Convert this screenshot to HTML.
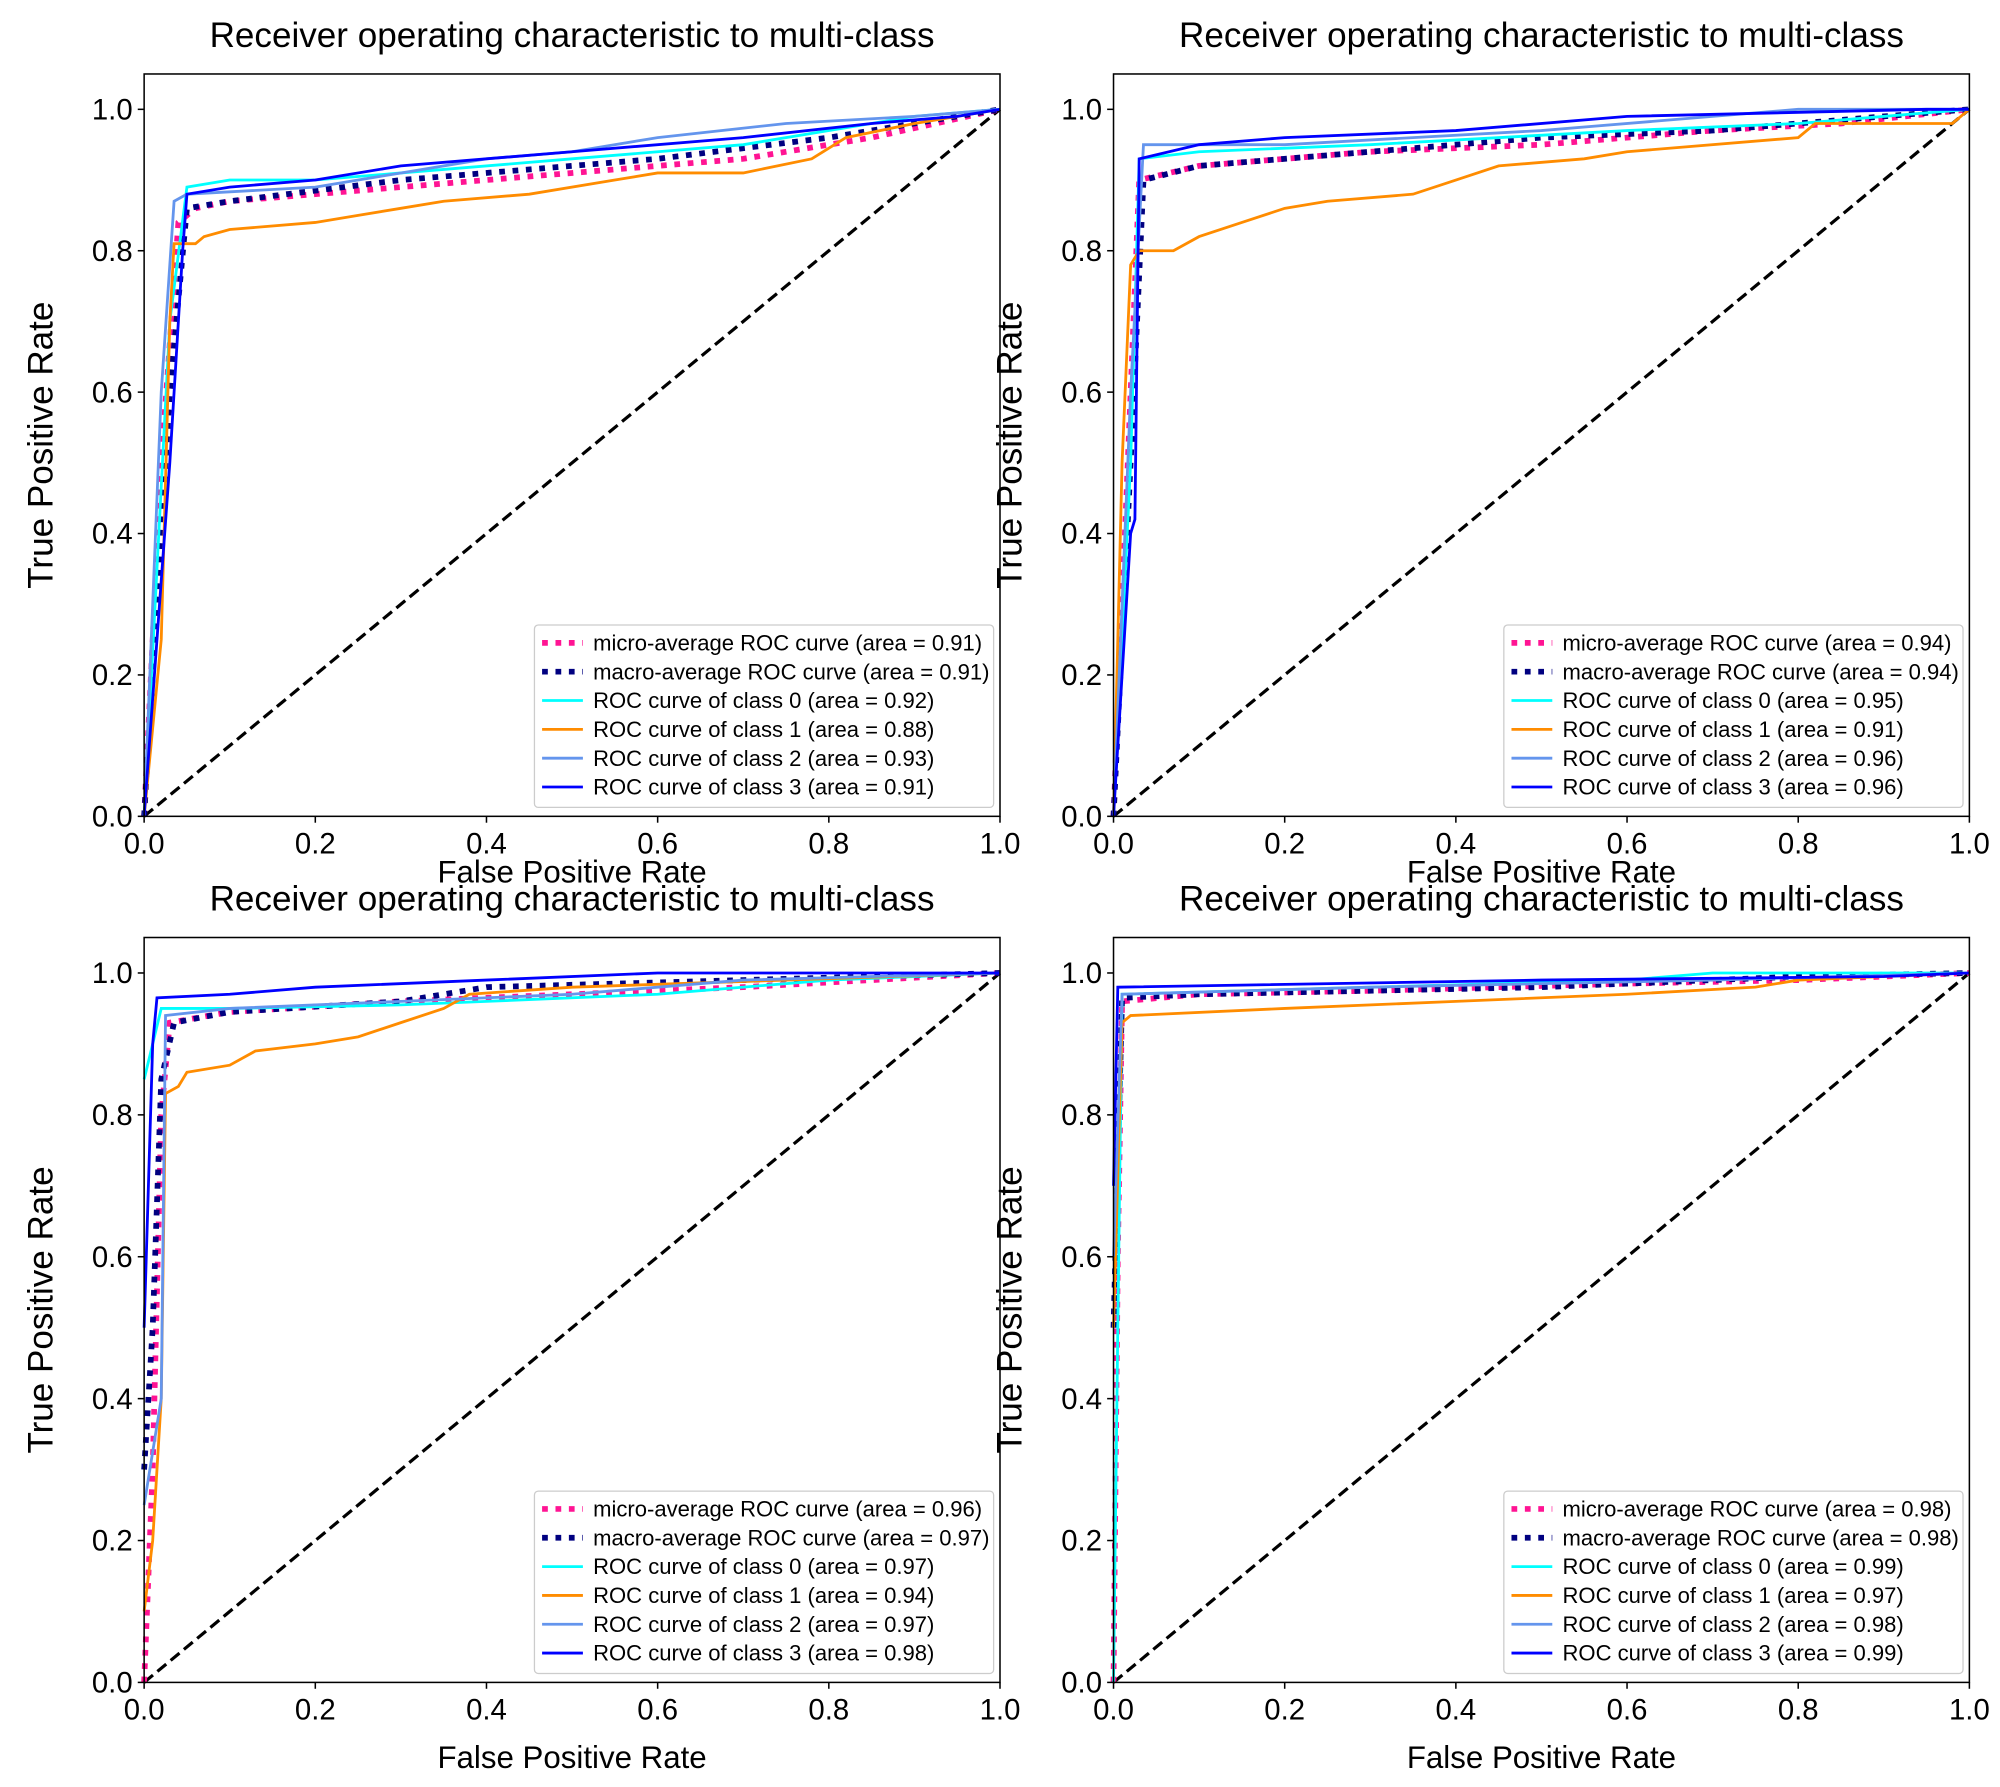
<!DOCTYPE html>
<html><head><meta charset="utf-8"><style>
html,body{margin:0;padding:0;background:#fff}
svg{display:block}
text{font-family:"Liberation Sans",Arial,sans-serif;fill:#000}
</style></head><body>
<svg id="fig" width="2000" height="1787" viewBox="0 0 1568 1401" preserveAspectRatio="none" xmlns="http://www.w3.org/2000/svg"></svg>
<script>
const seriesNames = ["micro","macro","class0","class1","class2","class3"];
const seriesColors = ["deeppink","navy","aqua","darkorange","cornflowerblue","blue"];
const ticks = [0,0.2,0.4,0.6,0.8,1.0];
const tickLabels = ["0.0","0.2","0.4","0.6","0.8","1.0"];
const p1Areas = ["0.91","0.91","0.92","0.88","0.93","0.91"];
const p2Areas = ["0.94","0.94","0.95","0.91","0.96","0.96"];
const p3Areas = ["0.96","0.97","0.97","0.94","0.97","0.98"];
const p4Areas = ["0.98","0.98","0.99","0.97","0.98","0.99"];
const p1Micro = [[0,0],[0.02,0.5],[0.04,0.84],[0.06,0.86],[0.1,0.87],[0.2,0.88],[0.3,0.89],[0.5,0.91],[0.7,0.93],[0.85,0.96],[1,1]];
const p1Macro = [[0,0],[0.03,0.6],[0.05,0.86],[0.1,0.87],[0.3,0.9],[0.6,0.93],[0.8,0.96],[1,1]];
const p1C0 = [[0,0],[0.03,0.7],[0.05,0.89],[0.1,0.9],[0.2,0.9],[0.3,0.91],[0.5,0.93],[0.7,0.95],[0.9,0.99],[1,1]];
const p1C1 = [[0,0],[0.02,0.25],[0.03,0.7],[0.035,0.81],[0.06,0.81],[0.07,0.82],[0.1,0.83],[0.2,0.84],[0.25,0.85],[0.3,0.86],[0.35,0.87],[0.45,0.88],[0.55,0.9],[0.6,0.91],[0.7,0.91],[0.78,0.93],[0.82,0.96],[0.9,0.98],[1,1]];
const p1C2 = [[0,0],[0.02,0.6],[0.035,0.87],[0.05,0.88],[0.2,0.89],[0.3,0.91],[0.4,0.93],[0.5,0.94],[0.6,0.96],[0.75,0.98],[0.9,0.99],[1,1]];
const p1C3 = [[0,0],[0.03,0.5],[0.045,0.8],[0.05,0.88],[0.1,0.89],[0.2,0.9],[0.3,0.92],[0.5,0.94],[0.7,0.96],[0.85,0.98],[0.95,0.99],[1,1]];
const p2Micro = [[0,0],[0.02,0.6],[0.03,0.9],[0.1,0.92],[0.3,0.94],[0.5,0.95],[0.7,0.97],[0.85,0.98],[1,1]];
const p2Macro = [[0,0],[0.02,0.5],[0.035,0.9],[0.1,0.92],[0.3,0.94],[0.5,0.96],[0.7,0.97],[1,1]];
const p2C0 = [[0,0],[0.02,0.5],[0.03,0.93],[0.1,0.94],[0.3,0.95],[0.6,0.97],[0.8,0.98],[1,1]];
const p2C1 = [[0,0],[0.01,0.5],[0.02,0.78],[0.03,0.8],[0.07,0.8],[0.1,0.82],[0.15,0.84],[0.2,0.86],[0.25,0.87],[0.35,0.88],[0.4,0.9],[0.45,0.92],[0.55,0.93],[0.6,0.94],[0.8,0.96],[0.82,0.98],[0.98,0.98],[1,1]];
const p2C2 = [[0,0],[0.02,0.6],[0.035,0.95],[0.2,0.95],[0.5,0.97],[0.7,0.99],[0.8,1],[1,1]];
const p2C3 = [[0,0],[0.02,0.4],[0.025,0.42],[0.03,0.93],[0.1,0.95],[0.2,0.96],[0.4,0.97],[0.6,0.99],[0.95,1],[1,1]];
const p3Micro = [[0,0],[0.01,0.3],[0.02,0.8],[0.03,0.93],[0.1,0.945],[0.3,0.96],[0.5,0.97],[0.7,0.98],[0.85,0.99],[1,1]];
const p3Macro = [[0,0.3],[0.01,0.5],[0.02,0.85],[0.035,0.93],[0.1,0.945],[0.3,0.96],[0.4,0.98],[0.7,0.99],[1,1]];
const p3C0 = [[0,0.85],[0.01,0.9],[0.02,0.95],[0.1,0.95],[0.3,0.955],[0.4,0.96],[0.6,0.97],[0.8,0.99],[1,1]];
const p3C1 = [[0,0.1],[0.01,0.2],[0.02,0.4],[0.025,0.83],[0.04,0.84],[0.05,0.86],[0.1,0.87],[0.13,0.89],[0.2,0.9],[0.25,0.91],[0.3,0.93],[0.35,0.95],[0.38,0.97],[0.5,0.98],[0.75,0.99],[1,1]];
const p3C2 = [[0,0.25],[0.02,0.4],[0.025,0.94],[0.1,0.95],[0.3,0.96],[0.5,0.97],[0.7,0.99],[1,1]];
const p3C3 = [[0,0.5],[0.01,0.9],[0.015,0.965],[0.1,0.97],[0.2,0.98],[0.4,0.99],[0.6,1],[1,1]];
const p4Micro = [[0,0],[0.005,0.6],[0.01,0.96],[0.1,0.97],[0.3,0.975],[0.6,0.985],[0.8,0.99],[1,1]];
const p4Macro = [[0,0.5],[0.01,0.965],[0.1,0.97],[0.5,0.98],[0.8,0.995],[1,1]];
const p4C0 = [[0,0],[0.005,0.5],[0.01,0.97],[0.3,0.98],[0.6,0.99],[0.7,1],[1,1]];
const p4C1 = [[0,0.5],[0.01,0.93],[0.02,0.94],[0.2,0.95],[0.4,0.96],[0.6,0.97],[0.75,0.98],[0.8,0.99],[1,1]];
const p4C2 = [[0,0.6],[0.01,0.97],[0.3,0.98],[0.7,0.99],[1,1]];
const p4C3 = [[0,0.7],[0.005,0.98],[0.5,0.99],[0.9,0.995],[1,1]];

const NS="http://www.w3.org/2000/svg";
const svg=document.getElementById('fig');
function mk(tag,attrs,parent){const e=document.createElementNS(NS,tag);for(const k in attrs)e.setAttribute(k,attrs[k]);(parent||svg).appendChild(e);return e;}

const panels=[
 {x0:113,x1:784,top:58,bot:640,series:[p1Micro,p1Macro,p1C0,p1C1,p1C2,p1C3],areas:p1Areas,xlY:684},
 {x0:873,x1:1544,top:58,bot:640,series:[p2Micro,p2Macro,p2C0,p2C1,p2C2,p2C3],areas:p2Areas,xlY:684},
 {x0:113,x1:784,top:735,bot:1319,series:[p3Micro,p3Macro,p3C0,p3C1,p3C2,p3C3],areas:p3Areas,xlY:1378},
 {x0:873,x1:1544,top:735,bot:1319,series:[p4Micro,p4Macro,p4C0,p4C1,p4C2,p4C3],areas:p4Areas,xlY:1378}
];
panels.forEach((p,i)=>{
 const g=mk('g',{});
 
 
 const sx=v=>p.x0+v*(p.x1-p.x0);
 const sy=v=>p.bot-v/1.05*(p.bot-p.top);
 const cx=(p.x0+p.x1)/2;
 const t=mk('text',{x:cx,y:p.top-21,'text-anchor':'middle','font-size':27.5},g);
 t.textContent='Receiver operating characteristic to multi-class';
 
 
 const d=mk('line',{x1:sx(0),y1:sy(0),x2:sx(1),y2:sy(1),stroke:'#000','stroke-width':2.5,'stroke-dasharray':'9 4.5'},g);
 
 
 p.series.forEach((pts,j)=>{
  const dotted=j<2;
  const pl=mk('polyline',{points:pts.map(q=>sx(q[0])+','+sy(q[1])).join(' '),fill:'none',stroke:seriesColors[j],'stroke-width':dotted?4.5:2.2,'stroke-dasharray':dotted?'4.5 6':'none'},g);
  
  
 });
 const fr=mk('rect',{x:p.x0,y:p.top,width:p.x1-p.x0,height:p.bot-p.top,fill:'none',stroke:'#000','stroke-width':1.2},g);
 
 
 ticks.forEach((v,k)=>{
  mk('line',{x1:sx(v),y1:p.bot,x2:sx(v),y2:p.bot+5,stroke:'#000','stroke-width':1.2},g);
  const xt=mk('text',{x:sx(v),y:p.bot+29,'text-anchor':'middle','font-size':23},g);
  xt.textContent=tickLabels[k];
  
  
  mk('line',{x1:p.x0-5,y1:sy(v),x2:p.x0,y2:sy(v),stroke:'#000','stroke-width':1.2},g);
  const yt=mk('text',{x:p.x0-9,y:sy(v)+8,'text-anchor':'end','font-size':23},g);
  yt.textContent=tickLabels[k];
  
  
 });
 const xl=mk('text',{x:cx,y:p.xlY+8,'text-anchor':'middle','font-size':24.5},g);
 xl.textContent='False Positive Rate';
 
 
 const ym=(p.top+p.bot)/2, yx=p.x0-72;
 const yl=mk('text',{x:yx,y:ym,'text-anchor':'middle','font-size':27.5,transform:`rotate(-90 ${yx} ${ym})`},g);
 yl.textContent='True Positive Rate';
 
 
 const lx=p.x0+306, ly=p.bot-150;
 const lg=mk('g',{},g);
 
 
 mk('rect',{x:lx,y:ly,width:360,height:143,fill:'#fff','fill-opacity':0.85,stroke:'#ccc','stroke-width':1,rx:3},lg);
 const labels=['micro-average ROC curve','macro-average ROC curve','ROC curve of class 0','ROC curve of class 1','ROC curve of class 2','ROC curve of class 3'];
 labels.forEach((lab,j)=>{
  const yy=ly+14+j*22.6;
  const dotted=j<2;
  const e=mk('g',{},lg);
  
  
  mk('line',{x1:lx+6,y1:yy,x2:lx+38,y2:yy,stroke:seriesColors[j],'stroke-width':dotted?4.5:2.2,'stroke-dasharray':dotted?'4.5 6':'none'},e);
  const tx=mk('text',{x:lx+46,y:yy+6,'font-size':17.3},e);
  tx.textContent=lab+' (area = '+p.areas[j]+')';
 });
});
</script>
</body></html>
